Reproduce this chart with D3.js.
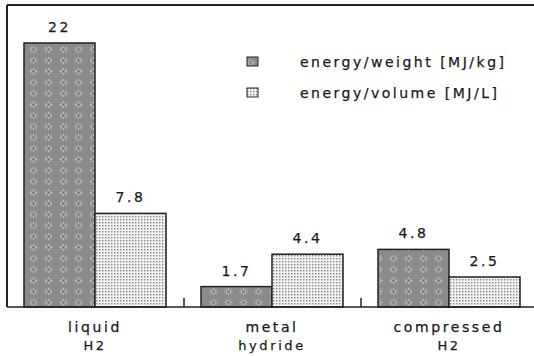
<!DOCTYPE html>
<html>
<head>
<meta charset="utf-8">
<script src="https://cdn.jsdelivr.net/npm/d3@7"></script>
<style>
  body { margin: 0; background: #fff; }
  text { font-family: "DejaVu Sans", sans-serif; fill: #1a1a1a; stroke: #1a1a1a; stroke-width: 0.25px; }
</style>
</head>
<body>
<div id="chart"></div>
<script>
// data
var categories = ["liquid H2", "metal hydride", "compressed H2"];
var categoryLines = [["liquid", "H2"], ["metal", "hydride"], ["compressed", "H2"]];
var seriesNames = ["energy/weight [MJ/kg]", "energy/volume [MJ/L]"];
var energyWeight = [22, 1.7, 4.8];
var energyVolume = [7.8, 4.4, 2.5];
var valueLabels = [["22", "1.7", "4.8"], ["7.8", "4.4", "2.5"]];

var width = 534, height = 356;

var svg = d3.select("#chart")
  .append("svg")
    .attr("width", width)
    .attr("height", height);

// patterns
var defs = svg.append("defs");
var p1 = defs.append("pattern")
  .attr("id", "pat-weight")
  .attr("patternUnits", "userSpaceOnUse")
  .attr("width", 15).attr("height", 11)
  .attr("x", 26).attr("y", 0);
p1.append("rect").attr("width", 15).attr("height", 11).attr("fill", "#8a8a8a");
p1.append("path")
  .attr("d", "M4.5,3 L10.5,8 M10.5,3 L4.5,8 M7.5,2 L7.5,9 M3.5,5.5 L11.5,5.5")
  .attr("stroke", "#c4c4c4").attr("stroke-width", 1);
p1.append("circle").attr("cx", 7.5).attr("cy", 5.5).attr("r", 1.2).attr("fill", "#666");

var p2 = defs.append("pattern")
  .attr("id", "pat-volume")
  .attr("patternUnits", "userSpaceOnUse")
  .attr("width", 3).attr("height", 3);
p2.append("rect").attr("width", 3).attr("height", 3).attr("fill", "#f2f2f2");
p2.append("rect").attr("x", 0).attr("y", 0).attr("width", 1.4).attr("height", 1.4).attr("fill", "#858585");

var fills = ["url(#pat-weight)", "url(#pat-volume)"];

// scales
var x0 = d3.scaleBand()
  .domain(categories)
  .range([7, 538]);

var x1 = d3.scaleBand()
  .domain(seriesNames)
  .range([17, 159]);

var y = d3.scaleLinear()
  .domain([0, 22])
  .range([307, 43]);

// frame
svg.append("line")
  .attr("x1", 7).attr("x2", width).attr("y1", 5).attr("y2", 5)
  .attr("stroke", "#222").attr("stroke-width", 2);
svg.append("line")
  .attr("x1", 7).attr("x2", 7).attr("y1", 5).attr("y2", y(0))
  .attr("stroke", "#222").attr("stroke-width", 2);

// bars
var series = [energyWeight, energyVolume];
series.forEach(function(vals, si) {
  svg.selectAll(".bar" + si)
    .data(categories)
    .enter()
    .append("rect")
      .attr("x", function(d) { return x0(d) + x1(seriesNames[si]); })
      .attr("y", function(d, i) { return y(vals[i]); })
      .attr("width", x1.bandwidth())
      .attr("height", function(d, i) { return y(0) - y(vals[i]); })
      .attr("fill", fills[si])
      .attr("stroke", "#222")
      .attr("stroke-width", 1.5);

  svg.selectAll(".lab" + si)
    .data(categories)
    .enter()
    .append("text")
      .attr("x", function(d) { return x0(d) + x1(seriesNames[si]) + x1.bandwidth() / 2; })
      .attr("y", function(d, i) { return y(vals[i]) - 11; })
      .attr("text-anchor", "middle")
      .style("font-size", "14px")
      .style("letter-spacing", "2.5px")
      .text(function(d, i) { return valueLabels[si][i]; });
});

// baseline and ticks
svg.append("line")
  .attr("x1", 7).attr("x2", width).attr("y1", y(0)).attr("y2", y(0))
  .attr("stroke", "#222").attr("stroke-width", 1.5);
svg.selectAll(".tick")
  .data(categories.slice(1))
  .enter()
  .append("line")
    .attr("x1", function(d) { return x0(d); })
    .attr("x2", function(d) { return x0(d); })
    .attr("y1", y(0) - 9).attr("y2", y(0))
    .attr("stroke", "#222").attr("stroke-width", 1.5);

// category labels
categories.forEach(function(c, i) {
  var cx = x0(c) + x1.range()[0] + x1.bandwidth();
  var t = svg.append("text")
    .attr("text-anchor", "middle")
    .style("letter-spacing", "2.6px");
  t.append("tspan").attr("x", cx).attr("y", 332).style("font-size", "14px").text(categoryLines[i][0]);
  t.append("tspan").attr("x", cx).attr("y", 350).style("font-size", "13px").text(categoryLines[i][1]);
});

// legend
var legend = svg.selectAll(".legend")
  .data(seriesNames)
  .enter()
  .append("g")
    .attr("transform", function(d, i) { return "translate(247," + (57 + i * 31) + ")"; });
legend.append("rect")
  .attr("width", 11).attr("height", 9)
  .attr("fill", function(d, i) { return fills[i]; })
  .attr("stroke", "#222").attr("stroke-width", 1);
legend.append("text")
  .attr("x", 53).attr("y", 10)
  .style("font-size", "14px")
  .style("letter-spacing", "2.5px")
  .text(function(d) { return d; });
</script>
</body>
</html>
